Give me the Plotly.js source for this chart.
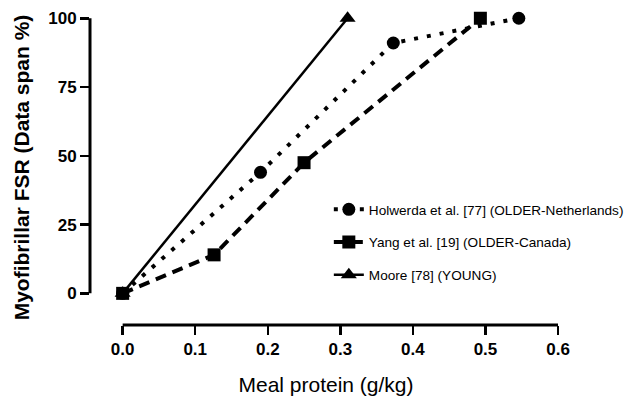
<!DOCTYPE html>
<html><head><meta charset="utf-8">
<script src="https://cdn.plot.ly/plotly-3.0.1.min.js"></script>
<style>html,body{margin:0;padding:0;background:#fff}#c{width:641px;height:396px}</style>
</head><body><div id="c"></div>
<script>
const seriesNames = ["Holwerda et al. [77] (OLDER-Netherlands)", "Yang et al. [19] (OLDER-Canada)", "Moore [78] (YOUNG)"];
const holwerdaX = [0, 0.19, 0.373, 0.546];
const holwerdaY = [0, 44, 91, 100];
const yangX = [0, 0.126, 0.25, 0.493];
const yangY = [0, 14, 47.5, 100];
const mooreX = [0, 0.31];
const mooreY = [0, 100];
const xTicks = [0, 0.1, 0.2, 0.3, 0.4, 0.5, 0.6];
const yTicks = [0, 25, 50, 75, 100];

const F = "Arial, 'Liberation Sans', sans-serif";
const traces = [
  {x: mooreX, y: mooreY, name: seriesNames[2], mode: "lines+markers", legendrank: 3, legendgroup: "c",
   line: {color: "#000", width: 2.5}, marker: {symbol: "triangle-up", size: 14, color: "#000"}},
  {x: holwerdaX, y: holwerdaY, name: seriesNames[0], mode: "lines+markers", legendrank: 1, legendgroup: "a",
   line: {color: "#000", width: 4, dash: "4px,9px"}, marker: {symbol: "circle", size: 13, color: "#000"}},
  {x: yangX, y: yangY, name: seriesNames[1], mode: "lines+markers", legendrank: 2, legendgroup: "b",
   line: {color: "#000", width: 4, dash: "11px,7px"}, marker: {symbol: "square", size: 13, color: "#000"}}
];
const layout = {
  width: 641, height: 396,
  margin: {l: 90, r: 79, t: 10, b: 71},
  paper_bgcolor: "#fff", plot_bgcolor: "#fff",
  font: {family: F, color: "#000"},
  showlegend: true,
  legend: {x: 0.506, y: 0.416, xanchor: "left", yanchor: "top", bgcolor: "rgba(0,0,0,0)",
           font: {size: 13.6, family: F}, tracegroupgap: 12, traceorder: "grouped", itemwidth: 30},
  xaxis: {range: [-0.045, 0.6055], tickvals: xTicks, tickformat: ".1f", showgrid: false, zeroline: false,
          showline: false, ticks: "outside", ticklen: 9, tickwidth: 2.5, tickcolor: "#000",
          tickfont: {size: 17, family: F, weight: "bold"},
          title: {text: "Meal protein (g/kg)", font: {size: 21, family: F}, standoff: 25}},
  yaxis: {range: [-11.5, 103], tickvals: yTicks, showgrid: false, zeroline: false,
          showline: false, ticks: "outside", ticklen: 9, tickwidth: 2.5, tickcolor: "#000",
          tickfont: {size: 17, family: F, weight: "bold"},
          title: {text: "Myofibrillar FSR (Data span %)", font: {size: 21, family: F, weight: "bold"}, standoff: 12}},
  shapes: [
    {type: "line", xref: "x", yref: "paper", x0: 0, x1: 0.6, y0: 0, y1: 0, line: {color: "#000", width: 3}},
    {type: "line", xref: "paper", yref: "y", x0: 0, x1: 0, y0: 0, y1: 100, line: {color: "#000", width: 3}}
  ]
};
Plotly.newPlot("c", traces, layout, {staticPlot: true, displayModeBar: false});
</script></body></html>
